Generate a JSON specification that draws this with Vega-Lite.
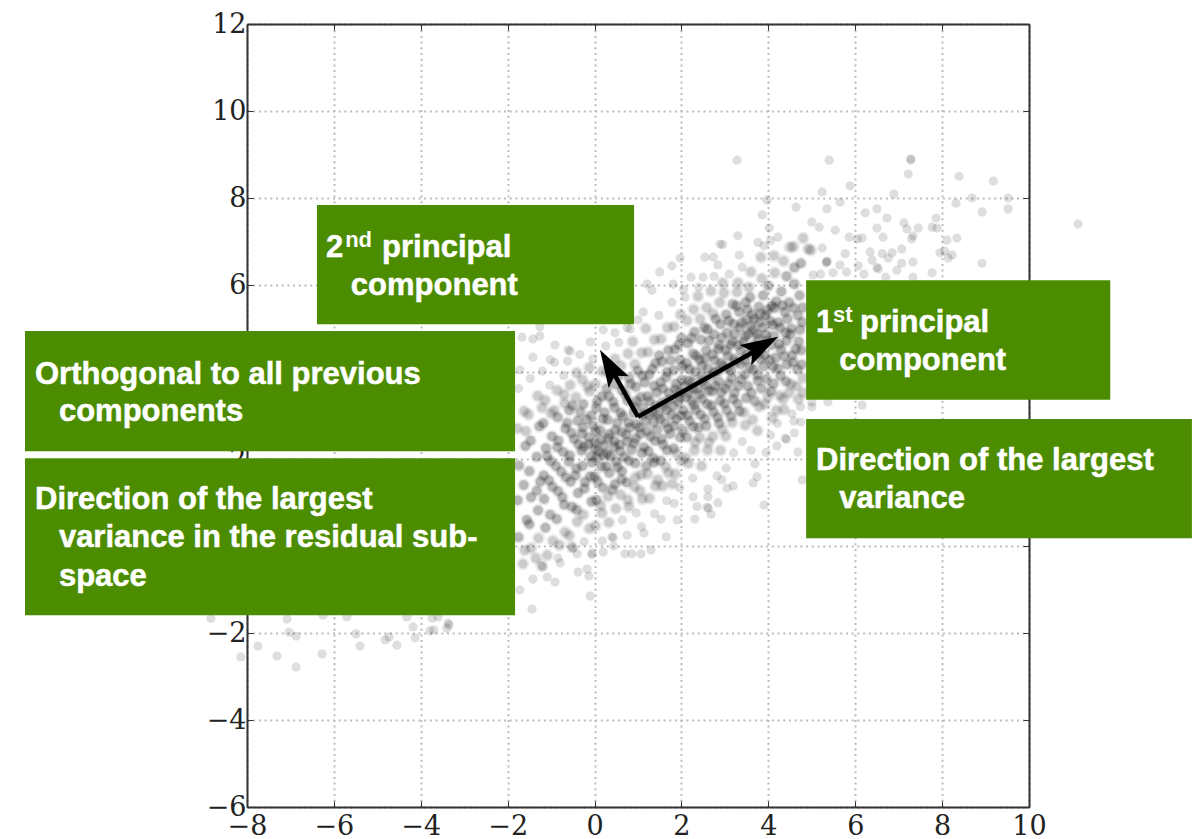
{"$schema":"https://vega.github.io/schema/vega-lite/v6.json","width":782,"height":783,"autosize":"none","padding":{"left":247,"top":24,"right":165,"bottom":32},"background":"white","view":{"stroke":null},
"datasets":{
"pts":[
{"x":5.4,"y":8.87},{"x":7.28,"y":8.87},{"x":7.28,"y":8.9},{"x":7.22,"y":8.55},{"x":8.39,"y":8.5},{"x":9.18,"y":8.39},{"x":5.24,"y":8.14},{"x":5.88,"y":8.28},{"x":6.89,"y":8.09},{"x":5.65,"y":7.9},{"x":5.35,"y":7.75},{"x":8.32,"y":7.88},{"x":8.69,"y":8.0},{"x":9.52,"y":8.0},{"x":9.52,"y":7.75},{"x":8.92,"y":7.68},{"x":6.23,"y":7.66},{"x":6.5,"y":7.75},{"x":6.73,"y":7.54},{"x":11.13,"y":7.4},{"x":5.0,"y":7.45},{"x":5.17,"y":7.33},{"x":5.54,"y":7.26},{"x":6.5,"y":7.31},{"x":7.12,"y":7.43},{"x":7.19,"y":7.29},{"x":7.45,"y":7.31},{"x":7.86,"y":7.54},{"x":7.77,"y":7.33},{"x":7.88,"y":7.31},{"x":5.86,"y":7.1},{"x":6.16,"y":7.08},{"x":6.05,"y":7.06},{"x":6.64,"y":7.1},{"x":7.33,"y":7.13},{"x":7.3,"y":7.06},{"x":8.11,"y":7.03},{"x":8.34,"y":7.08},{"x":4.8,"y":7.08},{"x":4.92,"y":6.83},{"x":4.98,"y":6.8},{"x":5.24,"y":6.85},{"x":7.07,"y":6.83},{"x":6.34,"y":6.76},{"x":5.77,"y":6.72},{"x":6.62,"y":6.72},{"x":6.85,"y":6.74},{"x":8.06,"y":6.78},{"x":7.95,"y":6.74},{"x":8.23,"y":6.69},{"x":8.14,"y":6.62},{"x":8.92,"y":6.5},{"x":7.33,"y":6.53},{"x":7.07,"y":6.5},{"x":6.76,"y":6.62},{"x":5.35,"y":6.53},{"x":5.35,"y":6.55},{"x":5.33,"y":6.51},{"x":6.39,"y":6.57},{"x":6.07,"y":6.44},{"x":5.65,"y":6.46},{"x":6.53,"y":6.37},{"x":6.5,"y":6.4},{"x":6.96,"y":6.34},{"x":7.77,"y":6.28},{"x":7.33,"y":6.18},{"x":5.03,"y":6.23},{"x":5.49,"y":6.28},{"x":5.2,"y":6.25},{"x":5.8,"y":6.3},{"x":6.2,"y":6.25},{"x":6.7,"y":6.18},
{"x":3.28,"y":8.87},{"x":3.97,"y":7.95},{"x":4.64,"y":7.79},{"x":3.86,"y":7.61},{"x":3.3,"y":7.13},{"x":4.02,"y":7.31},{"x":2.89,"y":6.94},{"x":2.95,"y":6.93},{"x":3.76,"y":6.98},{"x":4.22,"y":7.1},{"x":4.5,"y":6.87},{"x":4.58,"y":6.88},{"x":3.33,"y":6.69},{"x":2.54,"y":6.64},{"x":2.73,"y":6.64},{"x":3.83,"y":6.64},{"x":4.13,"y":6.67},{"x":2.84,"y":6.46},{"x":3.4,"y":6.41},{"x":1.97,"y":6.62},{"x":1.78,"y":6.44},{"x":1.5,"y":6.3},{"x":2.22,"y":6.18},{"x":1.21,"y":6.02},{"x":1.81,"y":6.02},{"x":2.5,"y":6.18},{"x":1.32,"y":5.88},{"x":3.9,"y":6.9},{"x":4.05,"y":7.02},{"x":4.35,"y":6.55},{"x":4.6,"y":6.4},{"x":3.6,"y":6.3},{"x":3.1,"y":6.25},{"x":2.75,"y":6.2},{"x":4.15,"y":6.28},{"x":4.75,"y":6.5},{"x":4.42,"y":6.2},{"x":3.85,"y":6.15},{"x":2.95,"y":6.05},{"x":2.4,"y":5.95},{"x":2.05,"y":5.9},{"x":3.3,"y":6.05},{"x":3.55,"y":5.95},{"x":4.0,"y":5.98},{"x":4.6,"y":6.02},{"x":4.3,"y":5.85},
{"x":-1.67,"y":4.8},{"x":-1.42,"y":4.76},{"x":-1.26,"y":4.83},{"x":-1.26,"y":5.04},{"x":-0.91,"y":4.62},{"x":-0.61,"y":4.51},{"x":-0.56,"y":4.48},{"x":-0.1,"y":4.69},{"x":-1.42,"y":4.34},{"x":-1.72,"y":4.05},{"x":-1.02,"y":4.28},{"x":0.2,"y":4.97},{"x":0.82,"y":4.99},{"x":1.12,"y":5.38},{"x":0.47,"y":4.9},{"x":1.0,"y":5.2},{"x":0.75,"y":5.02},
{"x":-1.44,"y":-1.45},{"x":-0.1,"y":-1.15},{"x":-1.72,"y":-1.01},{"x":-0.91,"y":-0.83},{"x":-1.42,"y":-0.76},{"x":-1.09,"y":-0.71},{"x":-0.13,"y":-0.69},{"x":-0.38,"y":-0.6},{"x":-0.17,"y":-0.53},{"x":-1.19,"y":-0.48},{"x":-1.22,"y":-0.45},{"x":-1.65,"y":-0.41},{"x":-0.79,"y":-0.39},{"x":-0.84,"y":-0.28},{"x":-1.35,"y":-0.28},{"x":-1.09,"y":-0.21},{"x":0.7,"y":-0.18},{"x":0.86,"y":-0.18},{"x":1.07,"y":-0.18},{"x":1.3,"y":-0.09},{"x":0.2,"y":-0.14},{"x":-0.06,"y":-0.16},{"x":-0.4,"y":-0.18},{"x":-0.52,"y":-0.02},{"x":-0.5,"y":-0.05},{"x":0.4,"y":0.21},{"x":0.43,"y":0.19},{"x":1.65,"y":0.21},{"x":1.14,"y":0.3},{"x":0.75,"y":0.25},{"x":2.31,"y":0.62},{"x":1.9,"y":0.6},{"x":2.68,"y":0.73},{"x":2.59,"y":0.89},{"x":2.62,"y":0.87},{"x":2.36,"y":0.91},{"x":2.84,"y":0.99},{"x":3.9,"y":0.94},{"x":2.61,"y":1.13},{"x":2.27,"y":1.13},{"x":2.61,"y":1.31},{"x":3.05,"y":1.33},{"x":3.19,"y":1.38},{"x":3.65,"y":1.45},{"x":3.74,"y":1.59},{"x":4.78,"y":1.52},{"x":2.82,"y":1.61},{"x":2.93,"y":1.52},{"x":3.03,"y":1.79},{"x":3.69,"y":1.89},{"x":4.68,"y":2.16},{"x":4.39,"y":2.48},{"x":4.42,"y":2.45},{"x":4.2,"y":2.3},{"x":3.95,"y":2.15},{"x":3.6,"y":2.2},{"x":3.4,"y":2.4},{"x":4.05,"y":2.55},{"x":4.6,"y":2.6},{"x":4.75,"y":2.85},{"x":3.75,"y":2.65},
{"x":5.0,"y":3.31},{"x":5.37,"y":3.31},{"x":6.16,"y":3.24},{"x":5.0,"y":3.2},{"x":-7.08,"y":-1.68},{"x":-6.25,"y":-1.59},{"x":-5.7,"y":-1.63},{"x":-4.32,"y":-1.63},{"x":-3.74,"y":-1.66},{"x":-3.6,"y":-1.63},{"x":-3.37,"y":-1.77},{"x":-3.35,"y":-1.82},{"x":-4.18,"y":-1.86},{"x":-3.4,"y":-1.89},{"x":-3.79,"y":-1.95},{"x":-3.7,"y":-1.93},{"x":-4.13,"y":-2.11},{"x":-7.03,"y":-1.98},{"x":-6.87,"y":-2.07},{"x":-5.49,"y":-2.02},{"x":-4.73,"y":-2.09},{"x":-4.82,"y":-2.16},{"x":-5.4,"y":-2.3},{"x":-4.55,"y":-2.28},{"x":-7.75,"y":-2.3},{"x":-7.31,"y":-2.53},{"x":-8.14,"y":-2.55},{"x":-6.27,"y":-2.48},{"x":-6.87,"y":-2.78},{"x":-8.83,"y":-1.66},
{"x":-1.75,"y":3.62},{"x":-1.62,"y":3.1},{"x":-1.78,"y":2.7},{"x":-1.59,"y":2.3},{"x":-1.74,"y":1.85},{"x":-1.63,"y":1.4},{"x":-1.77,"y":1.05},{"x":-1.56,"y":0.6},{"x":-1.75,"y":0.2},{"x":-1.61,"y":-0.1},
{"x":-1.48,"y":3.85},{"x":-1.31,"y":3.45},{"x":-1.52,"y":3.02},{"x":-1.27,"y":2.75},{"x":-1.47,"y":2.42},{"x":-1.33,"y":2.05},{"x":-1.5,"y":1.72},{"x":-1.25,"y":1.48},{"x":-1.46,"y":1.12},{"x":-1.3,"y":0.82},{"x":-1.5,"y":0.5},{"x":-1.29,"y":0.18},{"x":-1.46,"y":-0.05},
{"x":-1.2,"y":4.02},{"x":-1.03,"y":3.7},{"x":-1.14,"y":3.35},{"x":-1.0,"y":3.05},{"x":-1.18,"y":2.82},{"x":-0.98,"y":2.52},{"x":-1.12,"y":2.25},{"x":-1.01,"y":1.95},{"x":-1.17,"y":1.62},{"x":-0.97,"y":1.36},{"x":-1.16,"y":1.08},{"x":-1.02,"y":0.72},{"x":-1.13,"y":0.42},{"x":-0.96,"y":0.12},
{"x":-0.92,"y":4.22},{"x":-0.71,"y":3.92},{"x":-0.86,"y":3.58},{"x":-0.69,"y":3.28},{"x":-0.85,"y":2.96},{"x":-0.67,"y":2.7},{"x":-0.83,"y":2.42},{"x":-0.72,"y":2.16},{"x":-0.89,"y":1.84},{"x":-0.66,"y":1.58},{"x":-0.84,"y":1.26},{"x":-0.7,"y":0.95},{"x":-0.87,"y":0.62},{"x":-0.68,"y":0.32},{"x":-0.81,"y":0.02},
{"x":-0.62,"y":4.25},{"x":-0.41,"y":3.98},{"x":-0.56,"y":3.7},{"x":-0.43,"y":3.42},{"x":-0.58,"y":3.12},{"x":-0.39,"y":2.88},{"x":-0.53,"y":2.6},{"x":-0.37,"y":2.34},{"x":-0.57,"y":2.08},{"x":-0.42,"y":1.78},{"x":-0.55,"y":1.48},{"x":-0.38,"y":1.22},{"x":-0.52,"y":0.9},{"x":-0.4,"y":0.56},{"x":-0.58,"y":0.24},
{"x":-0.34,"y":4.4},{"x":-0.12,"y":4.1},{"x":-0.28,"y":3.82},{"x":-0.11,"y":3.56},{"x":-0.26,"y":3.26},{"x":-0.08,"y":3.0},{"x":-0.27,"y":2.72},{"x":-0.13,"y":2.5},{"x":-0.25,"y":2.28},{"x":-0.09,"y":2.06},{"x":-0.28,"y":1.84},{"x":-0.1,"y":1.6},{"x":-0.23,"y":1.32},{"x":-0.07,"y":1.02},{"x":-0.26,"y":0.72},{"x":-0.12,"y":0.4},{"x":-0.24,"y":0.1},{"x":-0.06,"y":-0.2},
{"x":-0.04,"y":4.3},{"x":0.18,"y":4.02},{"x":0.02,"y":3.72},{"x":0.17,"y":3.44},{"x":0.04,"y":3.18},{"x":0.19,"y":2.92},{"x":0.03,"y":2.64},{"x":0.15,"y":2.44},{"x":0.01,"y":2.24},{"x":0.2,"y":2.1},{"x":0.05,"y":2.02},{"x":0.16,"y":1.82},{"x":0.0,"y":1.6},{"x":0.19,"y":1.34},{"x":0.04,"y":1.06},{"x":0.17,"y":0.76},{"x":0.02,"y":0.46},{"x":0.18,"y":0.12},
{"x":0.26,"y":4.6},{"x":0.47,"y":4.3},{"x":0.31,"y":4.0},{"x":0.49,"y":3.72},{"x":0.33,"y":3.44},{"x":0.46,"y":3.18},{"x":0.3,"y":2.9},{"x":0.48,"y":2.66},{"x":0.32,"y":2.48},{"x":0.45,"y":2.28},{"x":0.29,"y":2.12},{"x":0.5,"y":1.94},{"x":0.34,"y":1.68},{"x":0.47,"y":1.42},{"x":0.31,"y":1.14},{"x":0.49,"y":0.86},{"x":0.33,"y":0.54},{"x":0.44,"y":0.0},
{"x":0.56,"y":4.68},{"x":0.77,"y":4.42},{"x":0.61,"y":4.14},{"x":0.79,"y":3.86},{"x":0.63,"y":3.58},{"x":0.76,"y":3.34},{"x":0.6,"y":3.06},{"x":0.78,"y":2.84},{"x":0.62,"y":2.62},{"x":0.75,"y":2.4},{"x":0.59,"y":2.18},{"x":0.8,"y":1.96},{"x":0.63,"y":1.72},{"x":0.74,"y":1.46},{"x":0.6,"y":1.18},{"x":0.79,"y":0.9},{"x":0.64,"y":0.6},
{"x":0.88,"y":4.7},{"x":1.08,"y":4.44},{"x":0.93,"y":4.18},{"x":1.1,"y":3.92},{"x":0.95,"y":3.66},{"x":1.07,"y":3.42},{"x":0.92,"y":3.2},{"x":1.11,"y":3.02},{"x":0.96,"y":2.8},{"x":1.06,"y":2.58},{"x":0.91,"y":2.36},{"x":1.09,"y":2.14},{"x":0.94,"y":1.9},{"x":1.07,"y":1.64},{"x":0.92,"y":1.36},{"x":1.1,"y":1.08},{"x":0.96,"y":0.76},{"x":1.08,"y":0.44},
{"x":1.18,"y":5.0},{"x":1.38,"y":4.74},{"x":1.23,"y":4.46},{"x":1.4,"y":4.2},{"x":1.25,"y":3.94},{"x":1.37,"y":3.68},{"x":1.22,"y":3.44},{"x":1.41,"y":3.22},{"x":1.26,"y":3.02},{"x":1.36,"y":2.84},{"x":1.21,"y":2.64},{"x":1.39,"y":2.42},{"x":1.24,"y":2.18},{"x":1.37,"y":1.92},{"x":1.22,"y":1.66},{"x":1.4,"y":1.38},{"x":1.26,"y":1.1},{"x":1.38,"y":0.74},
{"x":1.48,"y":5.3},{"x":1.68,"y":5.02},{"x":1.53,"y":4.76},{"x":1.7,"y":4.5},{"x":1.55,"y":4.24},{"x":1.67,"y":4.0},{"x":1.52,"y":3.76},{"x":1.71,"y":3.52},{"x":1.56,"y":3.3},{"x":1.66,"y":3.12},{"x":1.51,"y":2.92},{"x":1.69,"y":2.7},{"x":1.54,"y":2.46},{"x":1.67,"y":2.2},{"x":1.52,"y":1.96},{"x":1.7,"y":1.68},{"x":1.56,"y":1.38},{"x":1.66,"y":1.04},{"x":1.53,"y":0.62},
{"x":1.78,"y":5.6},{"x":1.98,"y":5.32},{"x":1.83,"y":5.04},{"x":2.0,"y":4.78},{"x":1.85,"y":4.52},{"x":1.97,"y":4.28},{"x":1.82,"y":4.04},{"x":2.01,"y":3.82},{"x":1.86,"y":3.6},{"x":1.96,"y":3.42},{"x":1.81,"y":3.22},{"x":1.99,"y":3.0},{"x":1.84,"y":2.76},{"x":1.97,"y":2.5},{"x":1.82,"y":2.24},{"x":2.0,"y":1.96},{"x":1.86,"y":1.66},{"x":1.96,"y":1.34},{"x":1.83,"y":0.98},
{"x":2.08,"y":5.72},{"x":2.28,"y":5.44},{"x":2.13,"y":5.18},{"x":2.3,"y":4.92},{"x":2.15,"y":4.66},{"x":2.27,"y":4.42},{"x":2.12,"y":4.2},{"x":2.31,"y":4.0},{"x":2.16,"y":3.8},{"x":2.26,"y":3.62},{"x":2.11,"y":3.42},{"x":2.29,"y":3.24},{"x":2.14,"y":3.0},{"x":2.27,"y":2.74},{"x":2.12,"y":2.5},{"x":2.3,"y":2.2},{"x":2.16,"y":1.9},{"x":2.26,"y":1.56},
{"x":2.38,"y":5.74},{"x":2.58,"y":5.48},{"x":2.43,"y":5.22},{"x":2.6,"y":4.98},{"x":2.45,"y":4.74},{"x":2.57,"y":4.5},{"x":2.42,"y":4.28},{"x":2.61,"y":4.08},{"x":2.46,"y":3.9},{"x":2.56,"y":3.7},{"x":2.41,"y":3.48},{"x":2.59,"y":3.26},{"x":2.44,"y":3.02},{"x":2.57,"y":2.76},{"x":2.42,"y":2.5},{"x":2.6,"y":2.2},{"x":2.46,"y":1.84},
{"x":2.68,"y":5.86},{"x":2.88,"y":5.6},{"x":2.73,"y":5.34},{"x":2.9,"y":5.1},{"x":2.75,"y":4.86},{"x":2.87,"y":4.62},{"x":2.72,"y":4.4},{"x":2.91,"y":4.2},{"x":2.76,"y":4.0},{"x":2.86,"y":3.78},{"x":2.71,"y":3.56},{"x":2.89,"y":3.34},{"x":2.74,"y":3.08},{"x":2.87,"y":2.82},{"x":2.72,"y":2.52},{"x":2.9,"y":2.2},
{"x":2.98,"y":5.82},{"x":3.18,"y":5.56},{"x":3.03,"y":5.32},{"x":3.2,"y":5.1},{"x":3.05,"y":4.9},{"x":3.17,"y":4.7},{"x":3.02,"y":4.5},{"x":3.21,"y":4.3},{"x":3.06,"y":4.08},{"x":3.16,"y":3.86},{"x":3.01,"y":3.62},{"x":3.19,"y":3.38},{"x":3.04,"y":3.12},{"x":3.17,"y":2.84},{"x":3.02,"y":2.52},{"x":3.2,"y":2.14},
{"x":3.28,"y":5.84},{"x":3.48,"y":5.6},{"x":3.33,"y":5.38},{"x":3.5,"y":5.2},{"x":3.35,"y":5.02},{"x":3.47,"y":4.82},{"x":3.32,"y":4.62},{"x":3.51,"y":4.4},{"x":3.36,"y":4.18},{"x":3.46,"y":3.94},{"x":3.31,"y":3.68},{"x":3.49,"y":3.4},{"x":3.34,"y":3.1},{"x":3.47,"y":2.78},
{"x":3.58,"y":5.72},{"x":3.78,"y":5.5},{"x":3.63,"y":5.32},{"x":3.8,"y":5.14},{"x":3.65,"y":4.96},{"x":3.77,"y":4.76},{"x":3.62,"y":4.54},{"x":3.81,"y":4.3},{"x":3.66,"y":4.06},{"x":3.76,"y":3.8},{"x":3.61,"y":3.52},{"x":3.79,"y":3.2},{"x":3.64,"y":2.9},
{"x":3.88,"y":5.76},{"x":4.08,"y":5.52},{"x":3.93,"y":5.3},{"x":4.1,"y":5.08},{"x":3.95,"y":4.86},{"x":4.07,"y":4.62},{"x":3.92,"y":4.38},{"x":4.11,"y":4.12},{"x":3.96,"y":3.84},{"x":4.06,"y":3.56},{"x":3.91,"y":3.26},{"x":4.09,"y":2.94},
{"x":4.18,"y":5.62},{"x":4.38,"y":5.38},{"x":4.23,"y":5.14},{"x":4.4,"y":4.9},{"x":4.25,"y":4.64},{"x":4.37,"y":4.36},{"x":4.22,"y":4.08},{"x":4.41,"y":3.78},{"x":4.26,"y":3.46},{"x":4.36,"y":3.14},{"x":4.21,"y":2.82},
{"x":4.48,"y":5.6},{"x":4.68,"y":5.3},{"x":4.53,"y":5.0},{"x":4.7,"y":4.7},{"x":4.55,"y":4.38},{"x":4.67,"y":4.06},{"x":4.52,"y":3.72},{"x":4.69,"y":3.38},{"x":4.54,"y":3.04},{"x":4.72,"y":5.76},{"x":4.78,"y":5.14},{"x":4.76,"y":4.5},{"x":4.8,"y":3.86},{"x":4.74,"y":3.2},
{"x":-1.58,"y":2.64},{"x":-1.33,"y":1.27},{"x":-1.21,"y":3.18},{"x":-1.09,"y":2.07},{"x":-1.05,"y":1.51},{"x":-0.93,"y":3.12},{"x":-0.86,"y":2.27},{"x":-0.77,"y":1.71},{"x":-0.74,"y":1.12},{"x":-0.7,"y":3.48},{"x":-0.63,"y":2.83},{"x":-0.59,"y":1.94},{"x":-0.51,"y":3.23},{"x":-0.47,"y":2.46},{"x":-0.44,"y":1.62},{"x":-0.41,"y":0.83},{"x":-0.33,"y":3.08},{"x":-0.3,"y":2.19},{"x":-0.29,"y":2.58},{"x":-0.22,"y":1.47},{"x":-0.18,"y":2.91},{"x":-0.16,"y":3.67},{"x":-0.14,"y":2.34},{"x":-0.06,"y":1.92},{"x":-0.03,"y":2.77},{"x":0.01,"y":2.38},{"x":0.06,"y":3.32},{"x":0.07,"y":1.48},{"x":0.09,"y":2.17},{"x":0.13,"y":2.66},{"x":0.14,"y":0.93},{"x":0.22,"y":2.31},{"x":0.23,"y":3.07},{"x":0.27,"y":1.83},{"x":0.28,"y":3.62},{"x":0.34,"y":2.57},{"x":0.37,"y":2.07},{"x":0.41,"y":1.29},{"x":0.43,"y":3.31},{"x":0.46,"y":2.41},{"x":0.52,"y":2.83},{"x":0.53,"y":1.81},{"x":0.55,"y":3.91},{"x":0.58,"y":2.33},{"x":0.62,"y":1.53},{"x":0.65,"y":2.98},{"x":0.69,"y":2.04},{"x":0.71,"y":3.48},{"x":0.73,"y":2.56},{"x":0.77,"y":1.06},{"x":0.81,"y":2.72},{"x":0.83,"y":3.72},{"x":0.85,"y":2.21},{"x":0.9,"y":3.06},{"x":0.94,"y":1.58},{"x":0.95,"y":2.47},{"x":0.97,"y":3.33},{"x":0.99,"y":4.03},{"x":1.03,"y":2.72},{"x":1.05,"y":1.27},{"x":1.12,"y":3.18},{"x":1.14,"y":2.27},{"x":1.15,"y":3.76},{"x":1.17,"y":2.87},{"x":1.19,"y":1.84},{"x":1.27,"y":3.33},{"x":1.29,"y":2.52},{"x":1.33,"y":4.07},{"x":1.34,"y":3.07},{"x":1.35,"y":2.02},{"x":1.43,"y":3.53},{"x":1.44,"y":2.67},{"x":1.45,"y":1.52},{"x":1.47,"y":3.02},{"x":1.49,"y":4.38},{"x":1.57,"y":3.62},{"x":1.58,"y":2.33},{"x":1.59,"y":3.22},{"x":1.63,"y":2.83},{"x":1.64,"y":1.82},{"x":1.65,"y":3.88},{"x":1.72,"y":3.37},{"x":1.74,"y":2.58},{"x":1.75,"y":4.27},{"x":1.77,"y":3.02},{"x":1.79,"y":1.43},{"x":1.87,"y":3.73},{"x":1.88,"y":2.92},{"x":1.89,"y":2.13},{"x":1.93,"y":3.31},{"x":1.94,"y":4.63},{"x":1.95,"y":3.53},{"x":2.02,"y":4.12},{"x":2.03,"y":2.66},{"x":2.04,"y":3.12},{"x":2.07,"y":3.68},{"x":2.09,"y":2.03},{"x":2.17,"y":3.52},{"x":2.18,"y":4.07},{"x":2.19,"y":2.87},{"x":2.23,"y":4.78},{"x":2.24,"y":3.33},{"x":2.25,"y":3.77},{"x":2.32,"y":2.38},{"x":2.33,"y":3.13},{"x":2.34,"y":4.37},{"x":2.37,"y":3.61},{"x":2.39,"y":2.72},{"x":2.47,"y":4.14},{"x":2.48,"y":3.38},{"x":2.49,"y":3.79},{"x":2.53,"y":5.02},{"x":2.54,"y":2.92},{"x":2.55,"y":4.31},{"x":2.62,"y":3.57},{"x":2.63,"y":2.38},{"x":2.64,"y":4.72},{"x":2.67,"y":3.91},{"x":2.69,"y":3.23},{"x":2.77,"y":4.27},{"x":2.78,"y":3.68},{"x":2.79,"y":5.22},{"x":2.83,"y":2.96},{"x":2.84,"y":4.02},{"x":2.85,"y":4.53},{"x":2.92,"y":3.53},{"x":2.93,"y":4.79},{"x":2.94,"y":2.68},{"x":2.97,"y":4.14},{"x":2.99,"y":3.27},{"x":3.07,"y":4.37},{"x":3.08,"y":3.73},{"x":3.09,"y":5.18},{"x":3.13,"y":4.62},{"x":3.14,"y":2.98},{"x":3.15,"y":4.03},{"x":3.22,"y":3.52},{"x":3.23,"y":4.87},{"x":3.24,"y":4.23},{"x":3.27,"y":5.52},{"x":3.29,"y":3.27},{"x":3.37,"y":4.48},{"x":3.38,"y":3.83},{"x":3.39,"y":5.13},{"x":3.43,"y":4.69},{"x":3.44,"y":3.07},{"x":3.45,"y":4.27},{"x":3.52,"y":5.43},{"x":3.53,"y":3.67},{"x":3.54,"y":4.87},{"x":3.57,"y":4.12},{"x":3.59,"y":5.05},{"x":3.67,"y":4.62},{"x":3.68,"y":5.22},{"x":3.69,"y":3.33},{"x":3.73,"y":4.41},{"x":3.74,"y":4.87},{"x":3.75,"y":3.93},{"x":3.82,"y":5.33},{"x":3.83,"y":4.52},{"x":3.84,"y":3.62},{"x":3.87,"y":5.02},{"x":3.89,"y":4.13},{"x":3.97,"y":4.73},{"x":3.98,"y":5.42},{"x":3.99,"y":3.43},{"x":4.03,"y":4.27},{"x":4.04,"y":5.17},{"x":4.12,"y":3.73},{"x":4.13,"y":4.82},{"x":4.14,"y":5.47},{"x":4.17,"y":4.33},{"x":4.19,"y":3.12},{"x":4.27,"y":5.02},{"x":4.28,"y":3.91},{"x":4.29,"y":4.52},{"x":4.33,"y":5.53},{"x":4.34,"y":3.38},{"x":4.42,"y":4.72},{"x":4.43,"y":4.17},{"x":4.44,"y":5.22},{"x":4.47,"y":3.52},{"x":4.51,"y":4.87},{"x":4.57,"y":4.22},{"x":4.58,"y":5.47},{"x":4.59,"y":2.87},{"x":4.63,"y":4.53},{"x":4.65,"y":3.67},{"x":4.73,"y":4.97},{"x":4.77,"y":4.17},{"x":4.79,"y":5.48},{"x":4.81,"y":3.52}
],
"boxes":[{"x":-6.39,"x2":0.91,"y":5.1,"y2":7.84},{"x":-13.11,"x2":-1.83,"y":2.18,"y2":4.94},{"x":-13.11,"x2":-1.83,"y":-1.59,"y2":2.02},{"x":4.87,"x2":11.87,"y":3.36,"y2":6.11},{"x":4.87,"x2":13.75,"y":0.18,"y2":2.92}],
"labels":[{"x":-6.18,"y":6.64,"t":"2"},{"x":-4.89,"y":6.64,"t":"principal"},{"x":-5.61,"y":5.77,"t":"component"},{"x":-12.88,"y":3.72,"t":"Orthogonal to all previous"},{"x":-12.33,"y":2.87,"t":"components"},{"x":-12.88,"y":0.85,"t":"Direction of the largest"},{"x":-12.33,"y":-0.02,"t":"variance in the residual sub-"},{"x":-12.33,"y":-0.92,"t":"space"},{"x":5.1,"y":4.92,"t":"1"},{"x":6.11,"y":4.92,"t":"principal"},{"x":5.63,"y":4.05,"t":"component"},{"x":5.1,"y":1.75,"t":"Direction of the largest"},{"x":5.63,"y":0.87,"t":"variance"}],
"sups":[{"x":-5.74,"y":6.87,"t":"nd"},{"x":5.49,"y":5.15,"t":"st"}],
"shafts":[{"id":"a","x":1.0,"y":2.97},{"id":"a","x":3.85,"y":4.57},{"id":"b","x":1.0,"y":2.97},{"id":"b","x":0.4,"y":4.05}],
"heads":[{"x":3.85,"y":4.6,"a":60.6},{"x":0.34,"y":4.14,"a":330}]
},
"layer":[
{"data":{"name":"pts"},"mark":{"type":"point","filled":true,"color":"black","opacity":0.13,"size":85,"clip":false},
"encoding":{"x":{"field":"x","type":"quantitative","scale":{"domain":[-8,10],"nice":false,"zero":false},"axis":{"orient":"bottom","values":[-8,-6,-4,-2,0,2,4,6,8,10],"title":null,"grid":true,"gridDash":[2,3.7],"gridColor":"#bbbbbb","gridWidth":2,"domainColor":"#333333","domainWidth":2,"tickColor":"#333333","tickSize":-6,"tickWidth":1,"labelFont":"DejaVu Serif","labelFontSize":27,"labelColor":"#222222","labelPadding":12,"labelFlush":false,"labelOverlap":false}},
"y":{"field":"y","type":"quantitative","scale":{"domain":[-6,12],"nice":false,"zero":false},"axis":{"orient":"left","values":[-6,-4,-2,0,2,4,6,8,10,12],"title":null,"grid":true,"gridDash":[2,3.7],"gridColor":"#bbbbbb","gridWidth":2,"domainColor":"#333333","domainWidth":2,"tickColor":"#333333","tickSize":-6,"tickWidth":1,"labelFont":"DejaVu Serif","labelFontSize":27,"labelColor":"#222222","labelPadding":7,"labelOverlap":false,"labelFlush":false}}}},
{"data":{"name":"pts"},"transform":[{"filter":"datum.x>-2&&datum.x<5&&abs(datum.y-2.3-0.62*datum.x)<2"}],"mark":{"type":"point","filled":true,"color":"black","opacity":0.08,"size":170,"clip":false},
"encoding":{"x":{"field":"x","type":"quantitative","axis":null},"y":{"field":"y","type":"quantitative","axis":null}}},
{"data":{"name":"pts"},"transform":[{"filter":"datum.x>-2&&datum.x<5&&abs(datum.y-2.3-0.62*datum.x)<1.3"}],"mark":{"type":"point","filled":true,"color":"black","opacity":0.1,"size":100,"clip":false},
"encoding":{"x":{"field":"x","type":"quantitative","axis":null},"y":{"field":"y","type":"quantitative","axis":null}}},
{"data":{"values":[{"x":0,"y":0}]},"mark":{"type":"point","opacity":0},
"encoding":{"x":{"field":"x","type":"quantitative","axis":{"orient":"top","values":[-8,-6,-4,-2,0,2,4,6,8,10],"title":null,"labels":false,"grid":false,"domainColor":"#333333","domainWidth":2,"tickColor":"#333333","tickSize":-6}},
"y":{"field":"y","type":"quantitative","axis":{"orient":"right","values":[-6,-4,-2,0,2,4,6,8,10,12],"title":null,"labels":false,"grid":false,"domainColor":"#333333","domainWidth":2,"tickColor":"#333333","tickSize":-6}}}},
{"data":{"name":"shafts"},"mark":{"type":"line","color":"black","strokeWidth":4.5,"strokeCap":"butt","strokeJoin":"miter"},
"encoding":{"x":{"field":"x","type":"quantitative","axis":null},"y":{"field":"y","type":"quantitative","axis":null},"detail":{"field":"id"}}},
{"data":{"name":"heads"},"mark":{"type":"point","filled":true,"color":"black","opacity":1,"size":1400,"shape":"M0,-1 L0.62,1 L0,0.6 L-0.62,1 Z"},
"encoding":{"x":{"field":"x","type":"quantitative","axis":null},"y":{"field":"y","type":"quantitative","axis":null},"angle":{"field":"a","type":"quantitative","scale":null}}},
{"data":{"name":"boxes"},"mark":{"type":"rect","color":"#4c8c00","opacity":1},
"encoding":{"x":{"field":"x","type":"quantitative","axis":null},"x2":{"field":"x2"},"y":{"field":"y","type":"quantitative","axis":null},"y2":{"field":"y2"}}},
{"data":{"name":"labels"},"mark":{"type":"text","align":"left","baseline":"alphabetic","color":"white","stroke":"white","strokeWidth":0.5,"font":"Liberation Sans","fontWeight":"bold","fontSize":31},
"encoding":{"x":{"field":"x","type":"quantitative","axis":null},"y":{"field":"y","type":"quantitative","axis":null},"text":{"field":"t"}}},
{"data":{"name":"sups"},"mark":{"type":"text","align":"left","baseline":"alphabetic","color":"white","font":"Liberation Sans","fontWeight":"bold","fontSize":22},
"encoding":{"x":{"field":"x","type":"quantitative","axis":null},"y":{"field":"y","type":"quantitative","axis":null},"text":{"field":"t"}}}
],
"resolve":{"axis":{"x":"independent","y":"independent"}}}
